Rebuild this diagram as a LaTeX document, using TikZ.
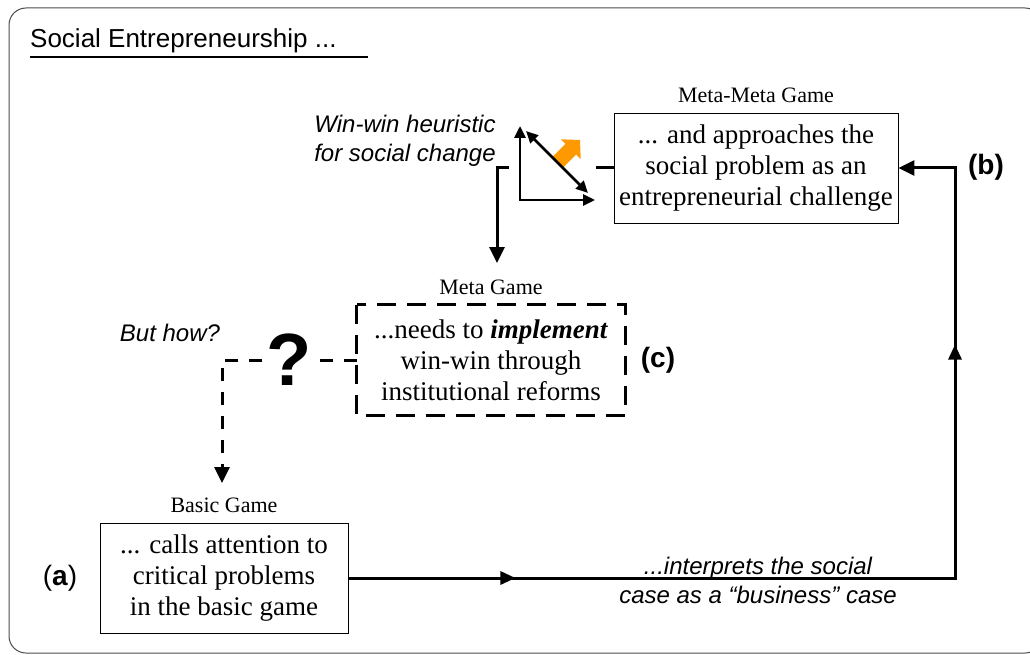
\documentclass[tikz,border=0pt]{standalone}
\usepackage{fontspec}
\setmainfont{Liberation Serif}
\setsansfont{Liberation Sans}
\usetikzlibrary{positioning,arrows.meta,decorations.markings}
\definecolor{sunorange}{HTML}{FF9900}
\tikzset{
  gamebox/.style={draw,line width=0.9pt,minimum width=#1,minimum height=110pt,
    inner sep=0pt,align=center,font=\fontsize{27}{31}\selectfont},
  gametitle/.style={inner sep=0pt,font=\fontsize{22}{26}\selectfont},
  flow/.style={line width=3pt,-{Triangle[length=16pt,width=15pt]}},
  dashline/.style={line width=3pt,dash pattern=on 13pt off 11pt},
  dashflow/.style={dashline,-{Triangle[length=16pt,width=15pt]}},
  chart/.style={line width=2.8pt,-{Triangle[length=12pt,width=11pt]}},
  note/.style={align=center,inner sep=0pt,font=\sffamily\itshape\fontsize{24}{29}\selectfont},
  tag/.style={inner sep=0pt,font=\sffamily\bfseries\fontsize{28}{32}\selectfont},
  midarrows/.style={postaction={decorate},decoration={markings,
    mark=at position 167pt with {\arrow{Triangle[length=15pt,width=13pt]}},
    mark=at position 840pt with {\arrow{Triangle[length=15pt,width=13pt]}}}}
}
\begin{document}
\begin{tikzpicture}[x=1pt,y=-1pt]
  \useasboundingbox (0,0) rectangle (1030,655);
  \draw[black!70,line width=1pt,rounded corners=17pt] (9,8) rectangle (1042,653);
  % heading
  \node[anchor=base west,inner sep=0pt,font=\sffamily\fontsize{26}{30}\selectfont] (heading) at (30,48) {Social Entrepreneurship ...};
  \draw[line width=1.6pt] ([yshift=-9pt]heading.base west) -- ++(338,0);
  % the three games
  \node[gamebox=284pt] (mmgame) at (756,168) {... and approaches the\\social problem as an\\entrepreneurial challenge};
  \node[gametitle,above=10pt of mmgame] (mmtitle) {Meta-Meta Game};
  \node[gamebox=268pt,draw=none] (meta) at (491,360) {...needs to \textbf{\itshape implement}\\win-win through\\institutional reforms};
  \draw[line width=3pt,dash pattern=on 19pt off 11pt] (meta.north west) rectangle (meta.south east);
  \node[gametitle,above=10pt of meta] (metatitle) {Meta Game};
  \node[gamebox=248pt] (basic) at (224,578) {... calls attention to\\critical problems\\in the basic game};
  \node[gametitle,above=10pt of basic] (basictitle) {Basic Game};
  % tags and notes
  \node[tag,font=\sffamily\fontsize{28}{32}\selectfont] (taga) at (60,578) {(\textbf{a})};
  \node[tag] (tagb) at (986,167) {(b)};
  \node[tag] (tagc) at (658,360) {(c)};
  \node[note] (heur) at (405,141) {Win-win heuristic\\for social change};
  \node[note] (how) at (170,333) {But how?};
  \node[note] (case) at (758,580) {...interprets the social\\case as a “business” case};
  % connectors
  \coordinate (bturn) at (955,578);
  \coordinate (tturn) at (955,168);
  \draw[flow,midarrows] (basic.east) -- (bturn) -- (tturn) -- (mmgame.east);
  \coordinate (downturn) at (497,168);
  \coordinate (metain) at (497,263);
  \draw[flow] (mmgame.west) -- (downturn) -- (metain);
  \node[inner sep=4pt,font=\sffamily\bfseries\fontsize{74}{80}\selectfont] (ask) at (289,360) {?};
  \coordinate (askturn) at (222,360);
  \coordinate (basicin) at (222,483);
  \draw[dashline] (meta.west) -- (ask.east);
  \draw[dashflow] (ask.west) -- (askturn) -- (basicin);
  % win-win chart
  \fill[white] (509,118) rectangle (596,210);
  \fill[sunorange] (562.3,168.3) -- (576.1,154.5) -- (580.7,159.1) -- (580,140)
    -- (560.9,139.3) -- (565.5,143.9) -- (551.7,157.7) -- cycle;
  \draw[chart] (520,200) -- (520,126);
  \draw[chart] (518.6,200) -- (595,200);
  \draw[chart,{Triangle[length=12pt,width=11pt]}-{Triangle[length=12pt,width=11pt]}] (526,131) -- (588,193);
\end{tikzpicture}
\end{document}
